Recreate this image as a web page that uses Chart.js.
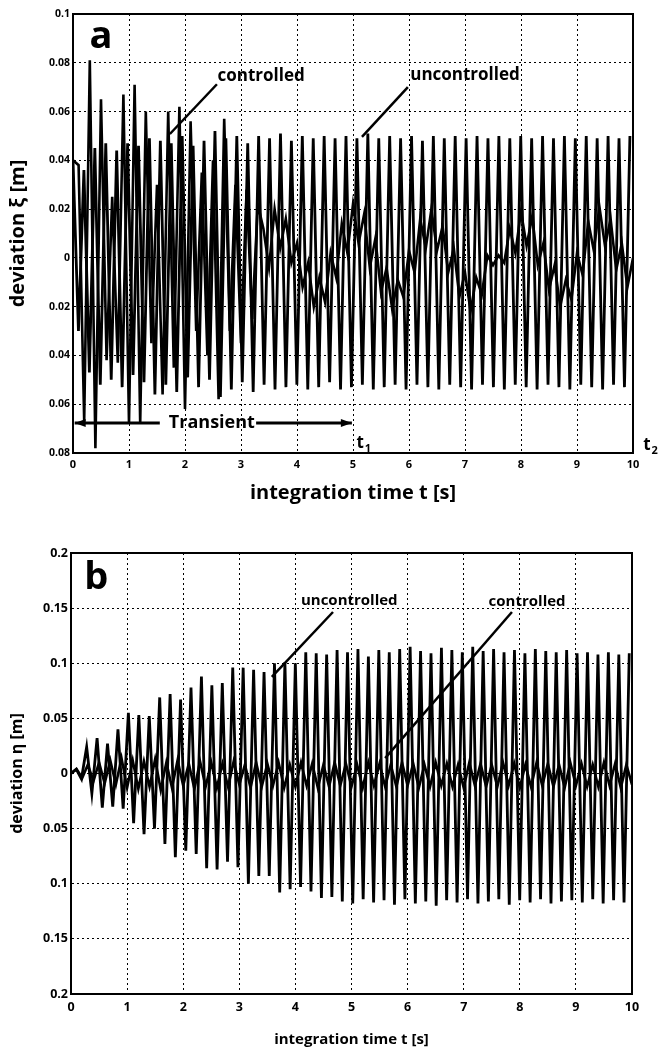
<!DOCTYPE html>
<html>
<head>
<meta charset="utf-8">
<script src="https://cdn.jsdelivr.net/npm/chart.js@4.4.1/dist/chart.umd.min.js"></script>
<style>
  body { margin: 0; background: #fff; }
  #wrap { position: relative; width: 660px; height: 1052px; }
  canvas { position: absolute; left: 0; }
  #chartA { top: 0; }
  #chartB { top: 520px; }
</style>
</head>
<body>
<div id="wrap">
  <canvas id="chartA" width="660" height="520"></canvas>
  <canvas id="chartB" width="660" height="532"></canvas>
</div>
<script>
// tick labels (signs of negative ticks are lost in the scan, kept as printed)
var xTicks = ['0', '1', '2', '3', '4', '5', '6', '7', '8', '9', '10'];
var yTicksA = ['0.08', '0.06', '0.04', '0.02', '0', '0.02', '0.04', '0.06', '0.08', '0.1'];
var yTicksB = ['0.2', '0.15', '0.1', '0.05', '0', '0.05', '0.1', '0.15', '0.2'];

// panel a: extremes of deviation xi [m], one value per half period
var stepUncA = 0.0975;
var uncontrolledA = [
  0.040, -0.030, 0.036, -0.047, 0.045, -0.052, 0.047, -0.050, 0.044, -0.053,
  0.047, -0.048, 0.046, -0.051, 0.049, -0.056, 0.048, -0.052, 0.047, -0.055,
  0.050, -0.049, 0.046, -0.053, 0.048, -0.050, 0.052, -0.057, 0.049, -0.054,
  0.050, -0.051, 0.047, -0.055, 0.050, -0.052, 0.049, -0.054, 0.051, -0.053,
  0.048, -0.052, 0.050, -0.054, 0.049, -0.053, 0.050, -0.051, 0.049, -0.054,
  0.050, -0.053, 0.049, -0.052, 0.051, -0.054, 0.049, -0.053, 0.050, -0.052,
  0.049, -0.054, 0.050, -0.052, 0.048, -0.053, 0.050, -0.054, 0.049, -0.052,
  0.050, -0.053, 0.049, -0.054, 0.050, -0.052, 0.049, -0.053, 0.050, -0.054,
  0.049, -0.052, 0.050, -0.053, 0.049, -0.054, 0.050, -0.052, 0.049, -0.053,
  0.050, -0.054, 0.049, -0.052, 0.050, -0.053, 0.049, -0.054, 0.050, -0.052,
  0.049, -0.053, 0.050
];
var stepCtlA = 0.1;
var controlledA = [
  0.040, 0.038, -0.067, 0.081, -0.078, 0.065, -0.042, 0.025, -0.043, 0.067,
  -0.068, 0.071, -0.068, 0.060, -0.035, 0.030, -0.056, 0.060, -0.045, 0.062,
  -0.062, 0.056, -0.030, 0.035, -0.040, 0.040, -0.058, 0.057, -0.030, 0.030,
  -0.035, 0.028, -0.025, 0.022,
  0.012, -0.004, 0.020, 0.004, 0.016, -0.002, 0.006, -0.012, -0.002, -0.020,
  -0.008, -0.018, 0.002, -0.008, 0.014, 0.002, 0.022, 0.006, 0.018, -0.004,
  0.008, -0.014, -0.004, -0.021, -0.009, -0.016, 0.003, -0.006, 0.016, 0.004,
  0.020, 0.003, 0.013, -0.006, 0.004, -0.016, -0.006, -0.022, -0.008, -0.015,
  0.001, -0.003, 0.001, -0.002, 0.012, 0.002, 0.019, 0.005, 0.017, -0.003,
  0.006, -0.013, -0.003, -0.020, -0.009, -0.017, 0.002, -0.007, 0.015, 0.003,
  0.021, 0.005, 0.016, -0.005, 0.006, -0.012, 0.000
];

// panel b: extremes of deviation eta [m]
var stepUncB = 0.093;
var uncontrolledB = [
  0.000, 0.004, -0.005, 0.024, -0.018, 0.032, -0.031, 0.027, -0.030, 0.040,
  -0.032, 0.055, -0.045, 0.053, -0.055, 0.052, -0.050, 0.069, -0.064, 0.072,
  -0.076, 0.067, -0.070, 0.078, -0.073, 0.088, -0.086, 0.080, -0.087, 0.082,
  -0.080, 0.096, -0.085, 0.096, -0.100, 0.094, -0.093, 0.092, -0.093, 0.100,
  -0.108, 0.101, -0.105, 0.100, -0.103, 0.110, -0.107, 0.109, -0.113, 0.108,
  -0.112, 0.112, -0.116, 0.110, -0.118, 0.113, -0.114, 0.106, -0.117, 0.112,
  -0.115, 0.110, -0.119, 0.113, -0.114, 0.115, -0.118, 0.111, -0.116, 0.109,
  -0.120, 0.114, -0.115, 0.112, -0.117, 0.110, -0.114, 0.115, -0.118, 0.111,
  -0.116, 0.113, -0.114, 0.110, -0.119, 0.112, -0.115, 0.109, -0.117, 0.113,
  -0.114, 0.111, -0.118, 0.110, -0.116, 0.112, -0.115, 0.109, -0.117, 0.110,
  -0.114, 0.108, -0.118, 0.110, -0.115, 0.108, -0.117, 0.109
];
var stepCtlB = 0.1;
var controlledB = [
  0.000, 0.004, -0.004, 0.008, -0.007, 0.010, -0.009, 0.012, -0.010, 0.014,
  -0.013, 0.012, -0.014, 0.011, -0.012, 0.013, -0.015, 0.010, -0.013, 0.012,
  -0.011, 0.009, -0.014, 0.011, -0.012, 0.010, -0.013, 0.009, -0.012, 0.011,
  -0.010, 0.008, -0.013, 0.010, -0.012, 0.009, -0.011, 0.010, -0.013, 0.008,
  -0.012, 0.010, -0.011, 0.009, -0.013, 0.008, -0.012, 0.010, -0.011, 0.009,
  -0.012, 0.008, -0.013, 0.010, -0.011, 0.009, -0.012, 0.008, -0.012, 0.010,
  -0.011, 0.009, -0.013, 0.008, -0.012, 0.010, -0.011, 0.009, -0.012, 0.008,
  -0.013, 0.010, -0.011, 0.009, -0.012, 0.008, -0.012, 0.010, -0.011, 0.009,
  -0.013, 0.008, -0.012, 0.010, -0.011, 0.009, -0.012, 0.008, -0.013, 0.010,
  -0.011, 0.009, -0.012, 0.008, -0.012, 0.010, -0.011, 0.009, -0.013, 0.008,
  -0.010
];

var FONT = '"Open Sans", "DejaVu Sans", sans-serif';

function points(vals, step) {
  return vals.map(function (v, i) { return { x: i * step, y: v }; });
}

function series(vals, step, width) {
  return {
    data: points(vals, step),
    borderColor: '#000',
    borderWidth: width,
    borderJoinStyle: 'miter',
    pointRadius: 0,
    tension: 0,
    fill: false
  };
}

// labels, leader lines and arrows, placed in data units
var notesA = [
  { text: 'a', t: 0.5, v: 0.0906, size: 38 },
  { text: 'controlled', t: 3.36, v: 0.0745, size: 17 },
  { line: [[2.57, 0.0712], [1.73, 0.0508]] },
  { text: 'uncontrolled', t: 7.0, v: 0.0748, size: 17 },
  { line: [[5.98, 0.0700], [5.16, 0.0496]] },
  { text: 'Transient', t: 2.48, v: -0.0676, size: 18 },
  { arrow: [[1.55, -0.0677], [0.03, -0.0677]] },
  { arrow: [[3.27, -0.0677], [4.98, -0.0677]] },
  { text: 't', sub: '1', t: 5.13, v: -0.0758, size: 17 },
  { text: 't', sub: '2', t: 10.25, v: -0.0766, size: 17 }
];
var notesB = [
  { text: 'b', t: 0.45, v: 0.177, size: 38 },
  { text: 'uncontrolled', t: 4.96, v: 0.1565, size: 15 },
  { line: [[4.67, 0.1465], [3.58, 0.0876]] },
  { text: 'controlled', t: 8.13, v: 0.1555, size: 15 },
  { line: [[7.86, 0.1465], [5.6, 0.014]] }
];

var notesPlugin = {
  id: 'notes',
  afterDraw: function (chart, args, opts) {
    var ctx = chart.ctx, a = chart.chartArea;
    var xs = chart.scales.x, ys = chart.scales.y;
    ctx.save();
    // box frame
    ctx.strokeStyle = '#000';
    ctx.lineWidth = 2;
    ctx.strokeRect(a.left, a.top, a.right - a.left, a.bottom - a.top);
    ctx.fillStyle = '#000';
    ctx.textAlign = 'center';
    ctx.textBaseline = 'middle';
    (opts.items || []).forEach(function (n) {
      if (n.text) {
        var x = xs.getPixelForValue(n.t), y = ys.getPixelForValue(n.v);
        ctx.font = 'bold ' + n.size + 'px ' + FONT;
        ctx.fillText(n.text, x, y);
        if (n.sub) {
          ctx.font = 'bold ' + Math.round(n.size * 0.65) + 'px ' + FONT;
          ctx.fillText(n.sub, x + n.size * 0.45, y + n.size * 0.35);
        }
      } else {
        var p = n.line || n.arrow;
        var x1 = xs.getPixelForValue(p[0][0]), y1 = ys.getPixelForValue(p[0][1]);
        var x2 = xs.getPixelForValue(p[1][0]), y2 = ys.getPixelForValue(p[1][1]);
        ctx.lineWidth = n.arrow ? 3 : 2.5;
        ctx.beginPath();
        ctx.moveTo(x1, y1);
        ctx.lineTo(x2, y2);
        ctx.stroke();
        if (n.arrow) {
          var ang = Math.atan2(y2 - y1, x2 - x1);
          ctx.beginPath();
          ctx.moveTo(x2, y2);
          ctx.lineTo(x2 - 11 * Math.cos(ang) + 4 * Math.sin(ang), y2 - 11 * Math.sin(ang) - 4 * Math.cos(ang));
          ctx.lineTo(x2 - 11 * Math.cos(ang) - 4 * Math.sin(ang), y2 - 11 * Math.sin(ang) + 4 * Math.cos(ang));
          ctx.closePath();
          ctx.fill();
        }
      }
    });
    ctx.restore();
  }
};

function makeChart(id, cfg) {
  return new Chart(document.getElementById(id), {
    type: 'line',
    data: { datasets: cfg.datasets },
    plugins: [notesPlugin],
    options: {
      responsive: false,
      animation: false,
      layout: { padding: cfg.padding },
      plugins: {
        legend: { display: false },
        tooltip: { enabled: false },
        notes: { items: cfg.notes }
      },
      scales: {
        x: {
          type: 'linear', min: 0, max: 10,
          ticks: {
            stepSize: 1, autoSkip: false, maxRotation: 0, padding: cfg.xTickPad, color: '#000',
            font: { family: FONT, size: cfg.xTickSize, weight: 'bold' },
            callback: function (v, i) { return xTicks[i]; }
          },
          grid: { color: '#000', lineWidth: 1, drawTicks: false },
          border: { display: true, color: '#000', width: 2, dash: [2, 3] },
          title: {
            display: true, text: 'integration time t [s]', color: '#000',
            font: { family: FONT, size: cfg.xTitleSize, weight: 'bold' },
            padding: { top: 0, bottom: cfg.xTitlePad }
          },
          afterFit: function (s) { s.height = cfg.xHeight; }
        },
        y: {
          type: 'linear', min: cfg.yMin, max: cfg.yMax,
          ticks: {
            stepSize: cfg.yStep, autoSkip: false, padding: 3, color: '#000',
            font: { family: FONT, size: cfg.yTickSize, weight: 'bold' },
            callback: function (v, i) { return cfg.yTicks[i]; }
          },
          grid: { color: '#000', lineWidth: 1, drawTicks: false },
          border: { display: true, color: '#000', width: 2, dash: [2, 3] },
          title: {
            display: true, text: cfg.yTitle, color: '#000',
            font: { family: FONT, size: cfg.yTitleSize, weight: 'bold' },
            padding: { top: cfg.yTitlePad, bottom: 0 }
          },
          afterFit: function (s) { s.width = cfg.yWidth; }
        }
      }
    }
  });
}

makeChart('chartA', {
  datasets: [series(uncontrolledA, stepUncA, 2.8), series(controlledA, stepCtlA, 2.6)],
  notes: notesA,
  padding: { left: 0, right: 27, top: 14, bottom: 0 },
  xHeight: 67, xTickPad: 5, xTickSize: 11, xTitleSize: 20, xTitlePad: 15,
  yWidth: 73, yMin: -0.08, yMax: 0.1, yStep: 0.02, yTicks: yTicksA, yTickSize: 10.5,
  yTitle: 'deviation \u03BE [m]', yTitleSize: 20, yTitlePad: 6
});

makeChart('chartB', {
  datasets: [series(uncontrolledB, stepUncB, 2.8), series(controlledB, stepCtlB, 2.6)],
  notes: notesB,
  padding: { left: 0, right: 28, top: 33, bottom: 0 },
  xHeight: 58, xTickPad: 6, xTickSize: 12.5, xTitleSize: 15, xTitlePad: 3,
  yWidth: 71, yMin: -0.2, yMax: 0.2, yStep: 0.05, yTicks: yTicksB, yTickSize: 12.5,
  yTitle: 'deviation \u03B7 [m]', yTitleSize: 16, yTitlePad: 8
});
</script>
</body>
</html>
